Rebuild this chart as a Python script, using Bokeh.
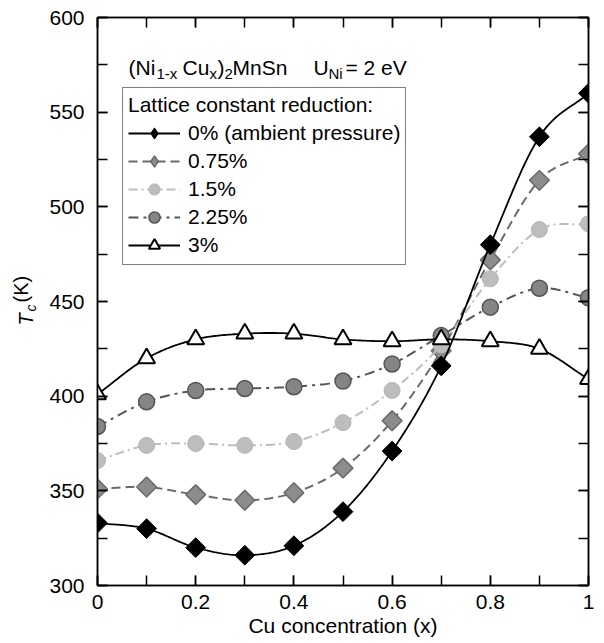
import numpy as np
from bokeh.plotting import figure
from bokeh.models import (Legend, LegendItem, Label, LinearAxis, SingleIntervalTicker,
                          Range1d)
from bokeh.embed import file_html
from bokeh.resources import INLINE

# ---------------- data ----------------
cu_x = [0.0, 0.1, 0.2, 0.3, 0.4, 0.5, 0.6, 0.7, 0.8, 0.9, 1.0]
tc_0 = [333, 330, 320, 316, 321, 339, 371, 416, 480, 537, 560]
tc_075 = [351, 352, 348, 345, 349, 362, 387, 424, 472, 514, 528]
tc_15 = [366, 374, 375, 374, 376, 386, 403, 427, 462, 488, 491]
tc_225 = [384, 397, 403, 404, 405, 408, 417, 432, 447, 457, 452]
tc_3 = [401, 420, 430, 433, 433, 430, 429, 430, 429, 425, 409]
labels = ["0% (ambient pressure)", "0.75%", "1.5%", "2.25%", "3%"]

FONT = "Liberation Sans"

FL, FR, FT, FB = 97, 588, 17, 585
W, H = 604, 643


def dx(px):
    return (px - FL) / (FR - FL)


def dy(py):
    return 300 + (FB - py) * 300.0 / (FB - FT)


def smooth(xs, ys, n=24):
    xs = np.asarray(xs, float)
    ys = np.asarray(ys, float)
    m = len(xs)
    t = np.zeros(m)
    for i in range(m):
        a = max(i - 1, 0)
        b = min(i + 1, m - 1)
        t[i] = (ys[b] - ys[a]) / (xs[b] - xs[a])
    ox, oy = [], []
    for i in range(m - 1):
        h = xs[i + 1] - xs[i]
        s = np.linspace(0, 1, n, endpoint=(i == m - 2))
        h00 = 2 * s**3 - 3 * s**2 + 1
        h10 = s**3 - 2 * s**2 + s
        h01 = -2 * s**3 + 3 * s**2
        h11 = s**3 - s**2
        ox.extend(xs[i] + s * h)
        oy.extend(h00 * ys[i] + h10 * h * t[i] + h01 * ys[i + 1] + h11 * h * t[i + 1])
    return ox, oy


p = figure(width=W, height=H, x_range=Range1d(0, 1), y_range=Range1d(300, 600),
           output_backend="svg", toolbar_location=None,
           min_border_left=FL, min_border_right=W - FR,
           min_border_top=FT, min_border_bottom=H - FB,
           background_fill_color="white", border_fill_color="white")
p.xgrid.visible = False
p.ygrid.visible = False
p.outline_line_color = "black"
p.outline_line_width = 1.5

xt = SingleIntervalTicker(interval=0.2, num_minor_ticks=2)
yt = SingleIntervalTicker(interval=50, num_minor_ticks=2)


def style_axis(ax, show_labels):
    ax.axis_line_color = "black"
    ax.axis_line_width = 1.5
    ax.major_tick_in = 10
    ax.major_tick_out = 0
    ax.minor_tick_in = 10
    ax.minor_tick_out = 0
    ax.major_tick_line_width = 1.5
    ax.minor_tick_line_width = 1.5
    ax.major_label_text_font = FONT
    if show_labels:
        ax.major_label_text_font_size = "21px"
        ax.major_label_text_color = "black"
    else:
        ax.major_label_text_font_size = "5px"
        ax.major_label_text_color = None
        ax.major_label_standoff = 0


p.xaxis.ticker = xt
p.yaxis.ticker = yt
style_axis(p.xaxis[0], True)
style_axis(p.yaxis[0], True)
p.xaxis.major_label_overrides = {0: "0", 1: "1"}
p.xaxis.major_label_standoff = 9
p.yaxis.major_label_standoff = 13
p.xaxis.axis_label = "Cu concentration (x)"
p.xaxis.axis_label_text_font = FONT
p.xaxis.axis_label_text_font_size = "21px"
p.xaxis.axis_label_text_font_style = "normal"
p.xaxis.axis_label_text_color = "black"
p.xaxis.axis_label_standoff = 2

top = LinearAxis(ticker=xt)
style_axis(top, False)
p.add_layout(top, "above")
right = LinearAxis(ticker=yt)
style_axis(right, False)
p.add_layout(right, "right")

# ---------------- series ----------------
sx, sy = smooth(cu_x, tc_075)
l1 = p.line(sx, sy, line_color="#6a6a6a", line_width=2, line_dash="9 5")
m1 = p.scatter(cu_x, tc_075, marker="square", angle=np.pi / 4, size=14,
               fill_color="#8c8c8c", line_color="#6a6a6a", line_width=1.5)

sx, sy = smooth(cu_x, tc_15)
l2 = p.line(sx, sy, line_color="#bdbdbd", line_width=2, line_dash="9 4 2 4")
m2 = p.scatter(cu_x, tc_15, marker="circle", size=16,
               fill_color="#bdbdbd", line_color="#b5b5b5", line_width=1)

sx, sy = smooth(cu_x, tc_225)
l3 = p.line(sx, sy, line_color="#555555", line_width=2, line_dash="10 5 3 5")
m3 = p.scatter(cu_x, tc_225, marker="circle", size=16,
               fill_color="#858585", line_color="#555555", line_width=1.5)

sx, sy = smooth(cu_x, tc_0)
l0 = p.line(sx, sy, line_color="black", line_width=1.8)
m0 = p.scatter(cu_x, tc_0, marker="square", angle=np.pi / 4, size=14,
               fill_color="black", line_color="black", line_width=1)

sx, sy = smooth(cu_x, tc_3)
l4 = p.line(sx, sy, line_color="black", line_width=1.8)
m4 = p.scatter(cu_x, tc_3, marker="triangle", size=17,
               fill_color="white", line_color="black", line_width=2)

k0 = p.scatter(cu_x, tc_0, marker="diamond", size=20, fill_color="black",
               line_color="black", visible=False)
k1 = p.scatter(cu_x, tc_075, marker="diamond", size=20, fill_color="#8c8c8c",
               line_color="#6a6a6a", line_width=1.5, visible=False)

rend = [(l0, k0), (l1, k1), (l2, m2), (l3, m3), (l4, m4)]
items = [LegendItem(label=lab, renderers=list(r)) for lab, r in zip(labels, rend)]

legend = Legend(items=items, location=(25, 320),
                title="Lattice constant reduction:",
                title_text_font=FONT, title_text_font_size="21px",
                title_text_font_style="normal", title_text_color="black",
                title_standoff=2,
                label_text_font=FONT, label_text_font_size="21px",
                label_text_color="black",
                glyph_width=52, glyph_height=28, label_height=28,
                label_standoff=8, spacing=0, padding=5, margin=0,
                border_line_color="black", border_line_width=1.2,
                background_fill_color="white", background_fill_alpha=1.0)
p.add_layout(legend)

# ---------------- annotation ----------------
BASE = 66.7
SUB = 73.3
pieces = [
    ("(Ni", 128, BASE, "21px"),
    ("1-x", 156, SUB, "15px"),
    ("Cu", 182, BASE, "21px"),
    ("x", 209, SUB, "15px"),
    (")", 217, BASE, "21px"),
    ("2", 224, SUB, "15px"),
    ("MnSn", 232, BASE, "21px"),
    ("U", 313, BASE, "21px"),
    ("Ni", 328, SUB, "15px"),
    ("= 2 eV", 345, BASE, "21px"),
]
for txt, px, py, fs in pieces:
    p.add_layout(Label(x=dx(px), y=dy(py), text=txt, text_font=FONT,
                       text_font_size=fs, text_color="black",
                       text_align="left", text_baseline="alphabetic"))

# ---------------- y axis label pieces (in side panels) ----------------
p.add_layout(Label(x=1, y=260, x_units="screen", y_units="screen",
                   text="T", text_font=FONT, text_font_size="20px",
                   text_font_style="italic", text_color="black",
                   angle=np.pi / 2, text_align="left",
                   text_baseline="alphabetic"), "left")
p.add_layout(Label(x=18, y=283, x_units="screen", y_units="screen",
                   text="(K)", text_font=FONT, text_font_size="20px",
                   text_font_style="normal", text_color="black",
                   angle=np.pi / 2, text_align="left",
                   text_baseline="alphabetic"), "left")
p.add_layout(Label(x=-67, y=-294, x_units="screen", y_units="screen",
                   text="c", text_font=FONT, text_font_size="14px",
                   text_font_style="italic", text_color="black",
                   angle=np.pi / 2, text_align="left",
                   text_baseline="alphabetic"), "above")

open("out.html", "w").write(file_html(p, INLINE))
